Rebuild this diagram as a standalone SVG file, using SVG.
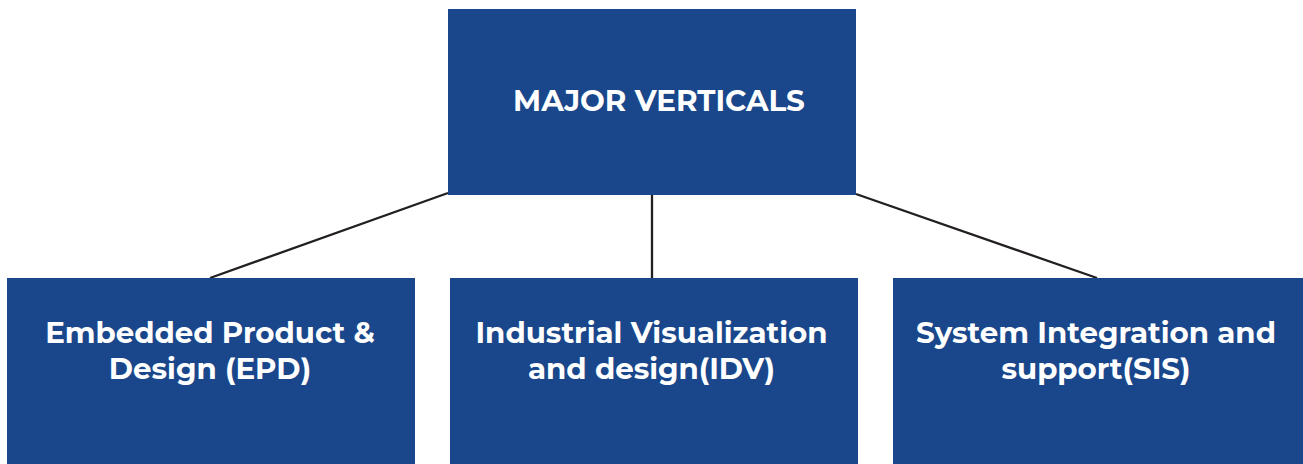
<svg xmlns="http://www.w3.org/2000/svg" width="1303" height="464" viewBox="0 0 1303 464">
  <style>
    .box { fill: #1a478b; }
    .label { fill: #ffffff; font-family: "Montserrat", "Inter", "Open Sans", "Liberation Sans", sans-serif; font-weight: 700; font-size: 29.3px; text-anchor: middle; }
    .title { font-size: 29.4px; }
    .link { stroke: #231f20; stroke-width: 2.3; fill: none; }
  </style>
  <rect width="1303" height="464" fill="#ffffff"/>

  <!-- connectors from the root box to the three verticals -->
  <g id="connectors">
    <line class="link" x1="448" y1="193" x2="210" y2="278"/>
    <line class="link" x1="652" y1="194" x2="652" y2="278"/>
    <line class="link" x1="856" y1="194" x2="1097" y2="278"/>
  </g>

  <g id="major-verticals">
    <rect class="box" x="448" y="9" width="408" height="186"/>
    <text class="label title" x="659" y="110.5">MAJOR VERTICALS</text>
  </g>

  <g id="epd">
    <rect class="box" x="7" y="278" width="408" height="186"/>
    <text class="label" x="210" y="343.3">Embedded Product &amp;</text>
    <text class="label" x="210" y="379.3">Design (EPD)</text>
  </g>

  <g id="idv">
    <rect class="box" x="450" y="278" width="408" height="186"/>
    <text class="label" x="651.5" y="343.3">Industrial Visualization</text>
    <text class="label" x="651.5" y="379.3">and design(IDV)</text>
  </g>

  <g id="sis">
    <rect class="box" x="893" y="278" width="410" height="186"/>
    <text class="label" x="1096" y="343.3">System Integration and</text>
    <text class="label" x="1096" y="379.3">support(SIS)</text>
  </g>
</svg>
